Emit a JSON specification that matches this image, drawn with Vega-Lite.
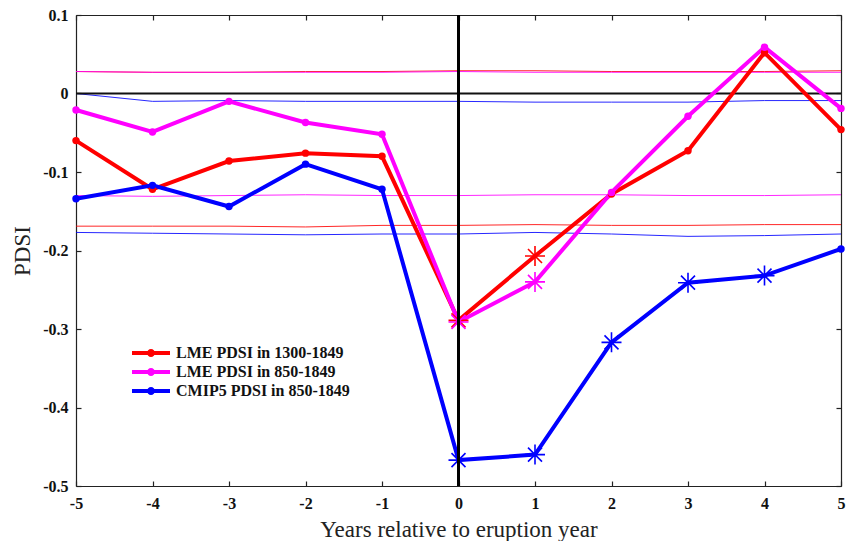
{
  "$schema": "https://vega.github.io/schema/vega-lite/v6.json",
  "width": 765,
  "height": 471,
  "autosize": {"type": "none"},
  "padding": {"left": 76, "top": 15, "right": 5, "bottom": 55},
  "background": "white",
  "config": {
    "view": {"stroke": null},
    "axis": {
      "labelFont": "Liberation Serif",
      "labelFontWeight": "bold",
      "labelFontSize": 16,
      "labelColor": "#111111",
      "titleFont": "Liberation Serif",
      "titleFontWeight": "normal",
      "titleFontSize": 23,
      "titleColor": "#222222",
      "domainColor": "#222222",
      "domainWidth": 1.2,
      "tickColor": "#222222",
      "tickWidth": 1.2,
      "grid": false
    }
  },
  "datasets": {
    "main": [
      {"year": -5, "value": -0.060, "series": "LME PDSI in 1300-1849", "marker": "o"},
      {"year": -4, "value": -0.122, "series": "LME PDSI in 1300-1849", "marker": "o"},
      {"year": -3, "value": -0.086, "series": "LME PDSI in 1300-1849", "marker": "o"},
      {"year": -2, "value": -0.076, "series": "LME PDSI in 1300-1849", "marker": "o"},
      {"year": -1, "value": -0.080, "series": "LME PDSI in 1300-1849", "marker": "o"},
      {"year": 0, "value": -0.289, "series": "LME PDSI in 1300-1849", "marker": "*"},
      {"year": 1, "value": -0.207, "series": "LME PDSI in 1300-1849", "marker": "*"},
      {"year": 2, "value": -0.128, "series": "LME PDSI in 1300-1849", "marker": "o"},
      {"year": 3, "value": -0.073, "series": "LME PDSI in 1300-1849", "marker": "o"},
      {"year": 4, "value": 0.052, "series": "LME PDSI in 1300-1849", "marker": "o"},
      {"year": 5, "value": -0.046, "series": "LME PDSI in 1300-1849", "marker": "o"},
      {"year": -5, "value": -0.021, "series": "LME PDSI in 850-1849", "marker": "o"},
      {"year": -4, "value": -0.049, "series": "LME PDSI in 850-1849", "marker": "o"},
      {"year": -3, "value": -0.010, "series": "LME PDSI in 850-1849", "marker": "o"},
      {"year": -2, "value": -0.037, "series": "LME PDSI in 850-1849", "marker": "o"},
      {"year": -1, "value": -0.052, "series": "LME PDSI in 850-1849", "marker": "o"},
      {"year": 0, "value": -0.291, "series": "LME PDSI in 850-1849", "marker": "*"},
      {"year": 1, "value": -0.240, "series": "LME PDSI in 850-1849", "marker": "*"},
      {"year": 2, "value": -0.126, "series": "LME PDSI in 850-1849", "marker": "o"},
      {"year": 3, "value": -0.029, "series": "LME PDSI in 850-1849", "marker": "o"},
      {"year": 4, "value": 0.059, "series": "LME PDSI in 850-1849", "marker": "o"},
      {"year": 5, "value": -0.019, "series": "LME PDSI in 850-1849", "marker": "o"},
      {"year": -5, "value": -0.134, "series": "CMIP5 PDSI in 850-1849", "marker": "o"},
      {"year": -4, "value": -0.117, "series": "CMIP5 PDSI in 850-1849", "marker": "o"},
      {"year": -3, "value": -0.144, "series": "CMIP5 PDSI in 850-1849", "marker": "o"},
      {"year": -2, "value": -0.090, "series": "CMIP5 PDSI in 850-1849", "marker": "o"},
      {"year": -1, "value": -0.122, "series": "CMIP5 PDSI in 850-1849", "marker": "o"},
      {"year": 0, "value": -0.467, "series": "CMIP5 PDSI in 850-1849", "marker": "*"},
      {"year": 1, "value": -0.460, "series": "CMIP5 PDSI in 850-1849", "marker": "*"},
      {"year": 2, "value": -0.317, "series": "CMIP5 PDSI in 850-1849", "marker": "*"},
      {"year": 3, "value": -0.241, "series": "CMIP5 PDSI in 850-1849", "marker": "*"},
      {"year": 4, "value": -0.232, "series": "CMIP5 PDSI in 850-1849", "marker": "*"},
      {"year": 5, "value": -0.198, "series": "CMIP5 PDSI in 850-1849", "marker": "o"}
    ],
    "bounds": [
      {"year": -5, "value": 0.028, "series": "LME PDSI in 1300-1849", "bound": "upper"},
      {"year": -4, "value": 0.027, "series": "LME PDSI in 1300-1849", "bound": "upper"},
      {"year": -3, "value": 0.027, "series": "LME PDSI in 1300-1849", "bound": "upper"},
      {"year": -2, "value": 0.028, "series": "LME PDSI in 1300-1849", "bound": "upper"},
      {"year": -1, "value": 0.028, "series": "LME PDSI in 1300-1849", "bound": "upper"},
      {"year": 0, "value": 0.029, "series": "LME PDSI in 1300-1849", "bound": "upper"},
      {"year": 1, "value": 0.029, "series": "LME PDSI in 1300-1849", "bound": "upper"},
      {"year": 2, "value": 0.028, "series": "LME PDSI in 1300-1849", "bound": "upper"},
      {"year": 3, "value": 0.028, "series": "LME PDSI in 1300-1849", "bound": "upper"},
      {"year": 4, "value": 0.028, "series": "LME PDSI in 1300-1849", "bound": "upper"},
      {"year": 5, "value": 0.029, "series": "LME PDSI in 1300-1849", "bound": "upper"},
      {"year": -5, "value": -0.169, "series": "LME PDSI in 1300-1849", "bound": "lower"},
      {"year": -4, "value": -0.169, "series": "LME PDSI in 1300-1849", "bound": "lower"},
      {"year": -3, "value": -0.169, "series": "LME PDSI in 1300-1849", "bound": "lower"},
      {"year": -2, "value": -0.170, "series": "LME PDSI in 1300-1849", "bound": "lower"},
      {"year": -1, "value": -0.168, "series": "LME PDSI in 1300-1849", "bound": "lower"},
      {"year": 0, "value": -0.168, "series": "LME PDSI in 1300-1849", "bound": "lower"},
      {"year": 1, "value": -0.167, "series": "LME PDSI in 1300-1849", "bound": "lower"},
      {"year": 2, "value": -0.168, "series": "LME PDSI in 1300-1849", "bound": "lower"},
      {"year": 3, "value": -0.168, "series": "LME PDSI in 1300-1849", "bound": "lower"},
      {"year": 4, "value": -0.167, "series": "LME PDSI in 1300-1849", "bound": "lower"},
      {"year": 5, "value": -0.167, "series": "LME PDSI in 1300-1849", "bound": "lower"},
      {"year": -5, "value": 0.028, "series": "LME PDSI in 850-1849", "bound": "upper"},
      {"year": -4, "value": 0.027, "series": "LME PDSI in 850-1849", "bound": "upper"},
      {"year": -3, "value": 0.027, "series": "LME PDSI in 850-1849", "bound": "upper"},
      {"year": -2, "value": 0.027, "series": "LME PDSI in 850-1849", "bound": "upper"},
      {"year": -1, "value": 0.027, "series": "LME PDSI in 850-1849", "bound": "upper"},
      {"year": 0, "value": 0.028, "series": "LME PDSI in 850-1849", "bound": "upper"},
      {"year": 1, "value": 0.027, "series": "LME PDSI in 850-1849", "bound": "upper"},
      {"year": 2, "value": 0.027, "series": "LME PDSI in 850-1849", "bound": "upper"},
      {"year": 3, "value": 0.027, "series": "LME PDSI in 850-1849", "bound": "upper"},
      {"year": 4, "value": 0.027, "series": "LME PDSI in 850-1849", "bound": "upper"},
      {"year": 5, "value": 0.027, "series": "LME PDSI in 850-1849", "bound": "upper"},
      {"year": -5, "value": -0.130, "series": "LME PDSI in 850-1849", "bound": "lower"},
      {"year": -4, "value": -0.131, "series": "LME PDSI in 850-1849", "bound": "lower"},
      {"year": -3, "value": -0.130, "series": "LME PDSI in 850-1849", "bound": "lower"},
      {"year": -2, "value": -0.129, "series": "LME PDSI in 850-1849", "bound": "lower"},
      {"year": -1, "value": -0.130, "series": "LME PDSI in 850-1849", "bound": "lower"},
      {"year": 0, "value": -0.130, "series": "LME PDSI in 850-1849", "bound": "lower"},
      {"year": 1, "value": -0.129, "series": "LME PDSI in 850-1849", "bound": "lower"},
      {"year": 2, "value": -0.129, "series": "LME PDSI in 850-1849", "bound": "lower"},
      {"year": 3, "value": -0.130, "series": "LME PDSI in 850-1849", "bound": "lower"},
      {"year": 4, "value": -0.130, "series": "LME PDSI in 850-1849", "bound": "lower"},
      {"year": 5, "value": -0.129, "series": "LME PDSI in 850-1849", "bound": "lower"},
      {"year": -5, "value": 0.000, "series": "CMIP5 PDSI in 850-1849", "bound": "upper"},
      {"year": -4, "value": -0.010, "series": "CMIP5 PDSI in 850-1849", "bound": "upper"},
      {"year": -3, "value": -0.009, "series": "CMIP5 PDSI in 850-1849", "bound": "upper"},
      {"year": -2, "value": -0.010, "series": "CMIP5 PDSI in 850-1849", "bound": "upper"},
      {"year": -1, "value": -0.010, "series": "CMIP5 PDSI in 850-1849", "bound": "upper"},
      {"year": 0, "value": -0.010, "series": "CMIP5 PDSI in 850-1849", "bound": "upper"},
      {"year": 1, "value": -0.011, "series": "CMIP5 PDSI in 850-1849", "bound": "upper"},
      {"year": 2, "value": -0.011, "series": "CMIP5 PDSI in 850-1849", "bound": "upper"},
      {"year": 3, "value": -0.011, "series": "CMIP5 PDSI in 850-1849", "bound": "upper"},
      {"year": 4, "value": -0.009, "series": "CMIP5 PDSI in 850-1849", "bound": "upper"},
      {"year": 5, "value": -0.009, "series": "CMIP5 PDSI in 850-1849", "bound": "upper"},
      {"year": -5, "value": -0.177, "series": "CMIP5 PDSI in 850-1849", "bound": "lower"},
      {"year": -4, "value": -0.178, "series": "CMIP5 PDSI in 850-1849", "bound": "lower"},
      {"year": -3, "value": -0.179, "series": "CMIP5 PDSI in 850-1849", "bound": "lower"},
      {"year": -2, "value": -0.180, "series": "CMIP5 PDSI in 850-1849", "bound": "lower"},
      {"year": -1, "value": -0.179, "series": "CMIP5 PDSI in 850-1849", "bound": "lower"},
      {"year": 0, "value": -0.179, "series": "CMIP5 PDSI in 850-1849", "bound": "lower"},
      {"year": 1, "value": -0.177, "series": "CMIP5 PDSI in 850-1849", "bound": "lower"},
      {"year": 2, "value": -0.179, "series": "CMIP5 PDSI in 850-1849", "bound": "lower"},
      {"year": 3, "value": -0.182, "series": "CMIP5 PDSI in 850-1849", "bound": "lower"},
      {"year": 4, "value": -0.181, "series": "CMIP5 PDSI in 850-1849", "bound": "lower"},
      {"year": 5, "value": -0.179, "series": "CMIP5 PDSI in 850-1849", "bound": "lower"}
    ]
  },
  "resolve": {"axis": {"x": "independent", "y": "independent"}},
  "layer": [
    {
      "data": {"name": "bounds"},
      "mark": {"type": "line", "strokeWidth": 1, "opacity": 0.85},
      "encoding": {
        "x": {"field": "year", "type": "quantitative",
          "scale": {"domain": [-5, 5], "nice": false, "zero": false},
          "axis": {"orient": "bottom", "values": [-5, -4, -3, -2, -1, 0, 1, 2, 3, 4, 5],
            "labelExpr": "datum.value < 0 ? '-' + (-datum.value) : '' + datum.value",
            "tickSize": -5, "labelPadding": 14, "title": "Years relative to eruption year", "titlePadding": 7,
            "labelFlush": false}},
        "y": {"field": "value", "type": "quantitative",
          "scale": {"domain": [-0.5, 0.1], "nice": false, "zero": false},
          "axis": {"orient": "left", "values": [0.1, 0, -0.1, -0.2, -0.3, -0.4, -0.5],
            "labelExpr": "datum.value == 0 ? '0' : (datum.value < 0 ? '-' + format(-datum.value, '.1f') : format(datum.value, '.1f'))",
            "tickSize": -5, "labelPadding": 13, "title": "PDSI", "titlePadding": 8, "labelFlush": false}},
        "color": {"field": "series", "type": "nominal",
          "scale": {"domain": ["LME PDSI in 1300-1849", "LME PDSI in 850-1849", "CMIP5 PDSI in 850-1849"],
            "range": ["#ff0000", "#ff00ff", "#0000ff"]}},
        "detail": {"field": "bound", "type": "nominal"}
      }
    },
    {
      "data": {"values": [{"v": 0}]},
      "mark": {"type": "rule", "color": "#111111", "strokeWidth": 2},
      "encoding": {
        "y": {"field": "v", "type": "quantitative", "axis": null}
      }
    },
    {
      "data": {"name": "main"},
      "mark": {"type": "line", "strokeWidth": 4},
      "encoding": {
        "x": {"field": "year", "type": "quantitative",
          "axis": {"orient": "top", "values": [-5, -4, -3, -2, -1, 0, 1, 2, 3, 4, 5], "labels": false, "tickSize": -5, "title": null}},
        "y": {"field": "value", "type": "quantitative",
          "axis": {"orient": "right", "values": [0.1, 0, -0.1, -0.2, -0.3, -0.4, -0.5], "labels": false, "tickSize": -5, "title": null}},
        "color": {"field": "series", "type": "nominal",
          "legend": {
            "orient": "none", "legendX": 67, "legendY": 330, "title": null, "padding": 0,
            "symbolType": "M-4.75,-0.5L4.75,-0.5L4.75,0.5L-4.75,0.5Z M1,0A1,1 0 1,1 -1,0A1,1 0 1,1 1,0Z",
            "symbolSize": 64, "symbolStrokeWidth": 0, "symbolOpacity": 1,
            "labelFont": "Liberation Serif", "labelFontWeight": "bold", "labelFontSize": 16, "labelColor": "#111111",
            "labelOffset": 17, "labelLimit": 0, "rowPadding": 3,
            "encode": {"symbols": {"update": {"fill": {"scale": "color", "field": "value"}, "opacity": {"value": 1}}}}
          }}
      }
    },
    {
      "data": {"name": "main"},
      "transform": [{"filter": "datum.marker == 'o'"}],
      "mark": {"type": "circle", "size": 55, "opacity": 1},
      "encoding": {
        "x": {"field": "year", "type": "quantitative", "axis": null},
        "y": {"field": "value", "type": "quantitative", "axis": null},
        "color": {"field": "series", "type": "nominal"}
      }
    },
    {
      "data": {"name": "main"},
      "transform": [{"filter": "datum.marker == '*'"}],
      "mark": {"type": "point", "filled": false, "strokeWidth": 1.6, "size": 400, "opacity": 1,
        "shape": "M-1,0L1,0M0,-1L0,1M-0.7,-0.7L0.7,0.7M-0.7,0.7L0.7,-0.7"},
      "encoding": {
        "x": {"field": "year", "type": "quantitative", "axis": null},
        "y": {"field": "value", "type": "quantitative", "axis": null},
        "color": {"field": "series", "type": "nominal"}
      }
    },
    {
      "data": {"values": [{"t": 0}]},
      "mark": {"type": "rule", "color": "#000000", "strokeWidth": 3},
      "encoding": {
        "x": {"field": "t", "type": "quantitative", "axis": null}
      }
    }
  ]
}
